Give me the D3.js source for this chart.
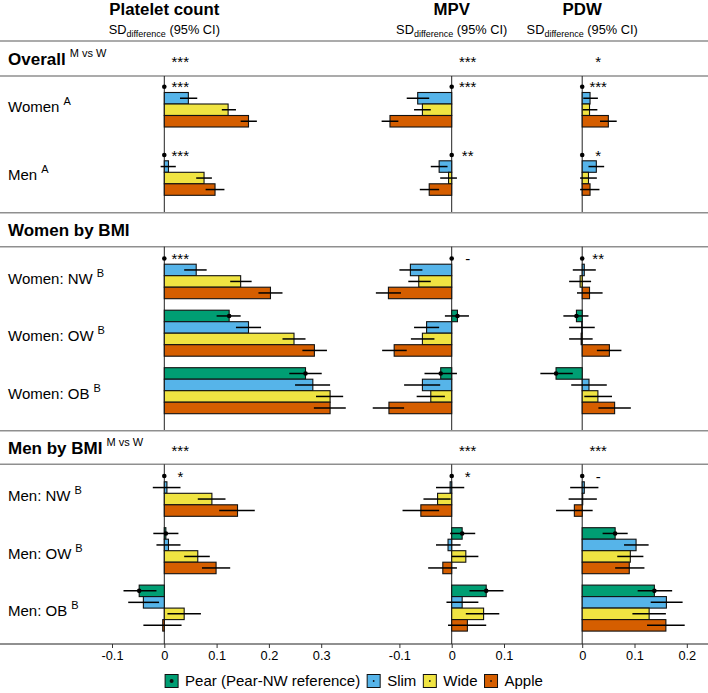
<!DOCTYPE html>
<html>
<head>
<meta charset="utf-8">
<script src="https://cdn.jsdelivr.net/npm/d3@7"></script>
<style>
  html, body { margin: 0; padding: 0; background: #fff; }
  svg { display: block; }
  text { font-family: "Liberation Sans", Arial, Helvetica, sans-serif; fill: #000; }
</style>
</head>
<body>
<svg id="chart" width="708" height="693"></svg>
<script>
// ---------------- DATA ----------------
const groupNames = ["Women", "Men", "Women: NW", "Women: OW", "Women: OB", "Men: NW", "Men: OW", "Men: OB"];
const groupSup = ["A", "A", "B", "B", "B", "B", "B", "B"];
const sectionNames = ["Overall", "Women by BMI", "Men by BMI"];
const sectionSup = ["M vs W", "", "M vs W"];
const sectionGroups = [[0, 1], [2, 3, 4], [5, 6, 7]];
const bodyTypes = ["Pear (Pear-NW reference)", "Slim", "Wide", "Apple"];
const typeColors = ["#009E73", "#56B4E9", "#F0E442", "#D55E00"];
const measures = ["Platelet count", "MPV", "PDW"];
// groups where Pear is the reference category (value fixed at 0)
const pearIsReference = [true, true, true, false, false, true, false, false];

// Platelet count: estimate, lower and upper 95% CI  [group][Pear, Slim, Wide, Apple]
const plateletEst = [
  [0, 0.046, 0.122, 0.161],
  [0, 0.008, 0.076, 0.097],
  [0, 0.061, 0.146, 0.203],
  [0.124, 0.161, 0.248, 0.287],
  [0.270, 0.284, 0.317, 0.317],
  [0, 0.005, 0.091, 0.140],
  [0.003, 0.008, 0.064, 0.099],
  [-0.048, -0.040, 0.038, -0.003]
];
const plateletLo = [
  [0, 0.030, 0.110, 0.146],
  [0, -0.007, 0.061, 0.079],
  [0, 0.038, 0.126, 0.180],
  [0.100, 0.137, 0.226, 0.264],
  [0.239, 0.250, 0.290, 0.286],
  [0, -0.022, 0.064, 0.105],
  [-0.021, -0.015, 0.038, 0.072],
  [-0.078, -0.069, 0.006, -0.040]
];
const plateletHi = [
  [0, 0.063, 0.137, 0.177],
  [0, 0.022, 0.091, 0.115],
  [0, 0.081, 0.167, 0.226],
  [0.146, 0.185, 0.270, 0.311],
  [0.301, 0.317, 0.342, 0.347],
  [0, 0.031, 0.117, 0.173],
  [0.027, 0.031, 0.087, 0.126],
  [-0.015, -0.010, 0.070, 0.033]
];

// MPV
const mpvEst = [
  [0, -0.065, -0.056, -0.118],
  [0, -0.024, -0.006, -0.043],
  [0, -0.079, -0.063, -0.121],
  [0.011, -0.048, -0.056, -0.110],
  [-0.021, -0.056, -0.040, -0.120],
  [0, -0.003, -0.027, -0.059],
  [0.020, -0.007, 0.027, -0.017],
  [0.066, 0.020, 0.061, 0.030]
];
const mpvLo = [
  [0, -0.086, -0.072, -0.134],
  [0, -0.040, -0.022, -0.061],
  [0, -0.100, -0.083, -0.145],
  [-0.013, -0.072, -0.078, -0.133],
  [-0.052, -0.091, -0.067, -0.151],
  [0, -0.030, -0.054, -0.094],
  [-0.003, -0.030, 0.000, -0.045],
  [0.034, -0.010, 0.027, -0.007]
];
const mpvHi = [
  [0, -0.043, -0.040, -0.102],
  [0, -0.008, 0.010, -0.024],
  [0, -0.056, -0.040, -0.097],
  [0.033, -0.024, -0.033, -0.086],
  [0.010, -0.022, -0.013, -0.091],
  [0, 0.024, -0.002, -0.024],
  [0.045, 0.017, 0.051, 0.010],
  [0.099, 0.051, 0.091, 0.066]
];

// PDW
const pdwEst = [
  [0, 0.015, 0.014, 0.050],
  [0, 0.027, 0.012, 0.015],
  [0, 0.004, -0.004, 0.014],
  [-0.011, -0.001, -0.002, 0.052],
  [-0.050, 0.013, 0.030, 0.062],
  [0, 0.004, 0.001, -0.015],
  [0.063, 0.103, 0.092, 0.090],
  [0.138, 0.161, 0.128, 0.160]
];
const pdwLo = [
  [0, 0.002, 0.001, 0.034],
  [0, 0.012, -0.004, -0.004],
  [0, -0.018, -0.025, -0.010],
  [-0.036, -0.025, -0.025, 0.028],
  [-0.080, -0.021, 0.004, 0.031],
  [0, -0.023, -0.026, -0.050],
  [0.039, 0.080, 0.067, 0.063],
  [0.106, 0.131, 0.096, 0.124]
];
const pdwHi = [
  [0, 0.030, 0.029, 0.066],
  [0, 0.042, 0.028, 0.033],
  [0, 0.026, 0.017, 0.039],
  [0.012, 0.024, 0.020, 0.075],
  [-0.018, 0.047, 0.057, 0.093],
  [0, 0.031, 0.028, 0.020],
  [0.087, 0.127, 0.117, 0.119],
  [0.172, 0.192, 0.160, 0.196]
];

// significance marks per group and per section header
const plateletSig = ["***", "***", "***", "", "", "*", "", ""];
const mpvSig = ["***", "**", "-", "", "", "*", "", ""];
const pdwSig = ["***", "*", "**", "", "", "-", "", ""];
const plateletHeadSig = ["***", "", "***"];
const mpvHeadSig = ["***", "", "***"];
const pdwHeadSig = ["*", "", "***"];

// tick values
const plateletTicks = [-0.1, 0, 0.1, 0.2, 0.3];
const mpvTicks = [-0.1, 0, 0.1];
const pdwTicks = [0, 0.1, 0.2];

// ---------------- LAYOUT ----------------
const W = 708, H = 693;
const svg = d3.select("#chart");
const FONT = '"Liberation Sans", Arial, Helvetica, sans-serif';
const unit = 523; // px per 1.0 SD
const zeros = [164.3, 451.7, 582.2];
const panels = [
  { est: plateletEst, lo: plateletLo, hi: plateletHi, sig: plateletSig, head: plateletHeadSig, ticks: plateletTicks },
  { est: mpvEst, lo: mpvLo, hi: mpvHi, sig: mpvSig, head: mpvHeadSig, ticks: mpvTicks },
  { est: pdwEst, lo: pdwLo, hi: pdwHi, sig: pdwSig, head: pdwHeadSig, ticks: pdwTicks }
];
panels.forEach((p, i) => {
  p.x = d3.scaleLinear().domain([-0.1, 0.1]).range([zeros[i] - 0.1 * unit, zeros[i] + 0.1 * unit]);
});

const sectionLayout = [
  { headTop: 41, headBot: 76, bodyBot: 212.7, start: 81, step: 68.3 },
  { headTop: 212.7, headBot: 246.7, bodyBot: 430.7, start: 252.7, step: 57.5 },
  { headTop: 430.7, headBot: 464.3, bodyBot: 644, start: 470.3, step: 57.4 }
];
const BAND = 46;
const inner = d3.scaleBand().domain(bodyTypes).range([0, BAND]).padding(0);

// group y scale per section
const groupY = {};
sectionGroups.forEach((gs, s) => {
  const L = sectionLayout[s];
  const n = gs.length;
  const pin = (L.step - BAND) / L.step;
  const sc = d3.scaleBand().domain(gs.map(g => groupNames[g]))
    .range([L.start, L.start + n * L.step - (L.step - BAND)])
    .paddingInner(pin).paddingOuter(0);
  gs.forEach(g => { groupY[g] = sc(groupNames[g]); });
});

// ---------------- TITLES ----------------
measures.forEach((m, i) => {
  svg.append("text").attr("x", zeros[i]).attr("y", 15)
    .attr("text-anchor", "middle").style("font-size", "16.8px").style("font-weight", "bold").text(m);
  const t = svg.append("text").attr("x", zeros[i]).attr("y", 34)
    .attr("text-anchor", "middle").style("font-size", "12.8px");
  t.append("tspan").text("SD");
  t.append("tspan").attr("dy", 3).style("font-size", "9px").text("difference");
  t.append("tspan").attr("dy", -3).text(" (95% CI)");
});

// ---------------- SECTIONS ----------------
sectionLayout.forEach((L, s) => {
  [L.headTop, L.headBot].forEach(y => {
    svg.append("line").attr("x1", 0).attr("x2", W).attr("y1", y).attr("y2", y)
      .attr("stroke", "#8f8f8f").attr("stroke-width", 1.6);
  });
  const mid = (L.headTop + L.headBot) / 2;
  const ht = svg.append("text").attr("x", 8).attr("y", mid + 6.2)
    .style("font-size", "17px").style("font-weight", "bold");
  ht.append("tspan").text(sectionNames[s]);
  if (sectionSup[s]) {
    ht.append("tspan").attr("dx", 4).attr("dy", -8).style("font-size", "11px").style("font-weight", "normal").text(sectionSup[s]);
  }
  panels.forEach((p, i) => {
    if (p.head[s]) {
      svg.append("text").attr("x", zeros[i] + 16).attr("y", mid + 8.5)
        .attr("text-anchor", "middle").style("font-size", "15px").text(p.head[s]);
    }
    svg.append("line").attr("x1", p.x(0)).attr("x2", p.x(0))
      .attr("y1", L.headBot).attr("y2", L.bodyBot)
      .attr("stroke", "#222").attr("stroke-width", 1);
  });
});

// ---------------- ROWS ----------------
groupNames.forEach((gName, g) => {
  const y0 = groupY[g];
  const lt = svg.append("text").attr("x", 8).attr("y", y0 + BAND / 2 + 8)
    .style("font-size", "15px");
  lt.append("tspan").text(gName);
  lt.append("tspan").attr("dx", 4).attr("dy", -7).style("font-size", "11px").text(groupSup[g]);

  panels.forEach((p, i) => {
    const gg = svg.append("g");
    bodyTypes.forEach((bt, k) => {
      const yb = y0 + inner(bt);
      const ref = (k === 0 && pearIsReference[g]);
      const v = p.est[g][k];
      if (!ref) {
        gg.append("rect")
          .attr("x", Math.min(p.x(0), p.x(v)))
          .attr("y", yb)
          .attr("width", Math.abs(p.x(v) - p.x(0)))
          .attr("height", inner.bandwidth())
          .attr("fill", typeColors[k]).attr("stroke", "#111").attr("stroke-width", 1.1);
      }
    });
    bodyTypes.forEach((bt, k) => {
      const yb = y0 + inner(bt);
      const yc = yb + inner.bandwidth() / 2;
      const ref = (k === 0 && pearIsReference[g]);
      if (!ref) {
        gg.append("line").attr("x1", p.x(p.lo[g][k])).attr("x2", p.x(p.hi[g][k]))
          .attr("y1", yc).attr("y2", yc).attr("stroke", "#000").attr("stroke-width", 1.5);
      }
      if (k === 0) {
        gg.append("circle").attr("cx", p.x(p.est[g][k])).attr("cy", yc).attr("r", 2.3).attr("fill", "#000");
        if (p.sig[g]) {
          const isDash = p.sig[g] === "-";
          gg.append("text").attr("x", p.x(0) + 16).attr("y", yc + (isDash ? 6 : 5.5))
            .attr("text-anchor", "middle").style("font-size", "15px").text(p.sig[g]);
        }
      }
    });
  });
});

// ---------------- AXIS ----------------
const axisY = 644;
svg.append("line").attr("x1", 0).attr("x2", W).attr("y1", axisY).attr("y2", axisY)
  .attr("stroke", "#222").attr("stroke-width", 1.1);
panels.forEach(p => {
  const ax = svg.append("g").attr("transform", `translate(0,${axisY})`)
    .call(d3.axisBottom(p.x).tickValues(p.ticks).tickSize(4).tickPadding(3)
      .tickFormat(d => d === 0 ? "0" : String(+d.toFixed(1))));
  ax.select(".domain").remove();
  ax.selectAll(".tick line").attr("stroke", "#333");
  ax.selectAll(".tick text").style("font-size", "12.8px").style("font-family", FONT).attr("fill", "#222");
});

// ---------------- LEGEND ----------------
const leg = svg.append("g");
let lx = 0;
const legY = 681;
bodyTypes.forEach((bt, k) => {
  const item = leg.append("g").attr("transform", `translate(${lx},0)`);
  item.append("rect").attr("x", 0).attr("y", legY - 6.5).attr("width", 13).attr("height", 13)
    .attr("fill", typeColors[k]).attr("stroke", "#111").attr("stroke-width", 1);
  item.append("circle").attr("cx", 6.5).attr("cy", legY).attr("r", k === 0 ? 2 : 0.9).attr("fill", "#111");
  const t = item.append("text").attr("x", 20).attr("y", legY + 5).style("font-size", "15px").text(bt);
  lx += 20 + t.node().getComputedTextLength() + 7;
});
const legW = lx - 7;
leg.attr("transform", `translate(${354 - legW / 2},0)`);
</script>
</body>
</html>
